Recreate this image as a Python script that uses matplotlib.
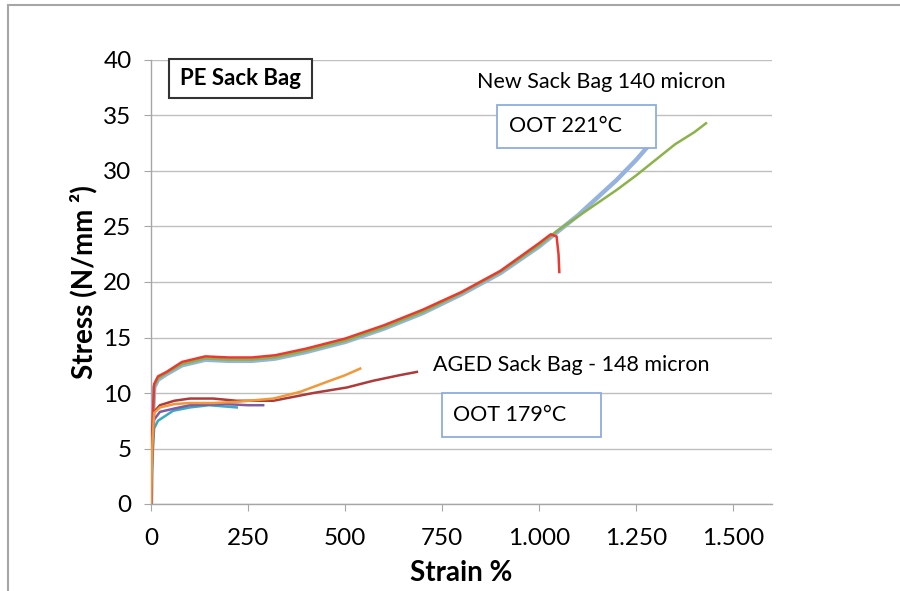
import matplotlib
matplotlib.use("Agg")
import matplotlib.pyplot as plt
from matplotlib.patches import Rectangle

plt.rcParams['font.family'] = ['Lato', 'DejaVu Sans']

# New sack bag 140 micron (OOT 221°C)
new_blue_x = [0, 3, 8, 18, 40, 80, 140, 200, 260, 320, 400, 500, 600, 700, 800, 900, 1000, 1050, 1100, 1150, 1200, 1250, 1280]
new_blue_y = [0, 6, 10.5, 11.2, 11.7, 12.5, 13.0, 12.9, 12.9, 13.1, 13.7, 14.6, 15.8, 17.2, 18.9, 20.8, 23.2, 24.6, 26.0, 27.6, 29.2, 31.0, 32.2]
new_green_x = [0, 3, 8, 18, 40, 80, 140, 200, 260, 320, 400, 500, 600, 700, 800, 900, 1000, 1050, 1100, 1150, 1200, 1250, 1300, 1350, 1400, 1430]
new_green_y = [0, 6.2, 10.6, 11.3, 11.8, 12.6, 13.1, 13.0, 13.0, 13.2, 13.8, 14.7, 15.9, 17.3, 19.0, 20.9, 23.3, 24.7, 25.9, 27.1, 28.3, 29.6, 31.0, 32.4, 33.5, 34.3]
new_red_x = [0, 3, 8, 18, 40, 80, 140, 200, 260, 320, 400, 500, 600, 700, 800, 900, 1000, 1030, 1045, 1050, 1052]
new_red_y = [0, 6.5, 10.8, 11.5, 11.9, 12.8, 13.3, 13.2, 13.2, 13.4, 14.0, 14.9, 16.1, 17.5, 19.1, 21.0, 23.5, 24.3, 24.1, 22.5, 20.9]

# Aged sack bag 148 micron (OOT 179°C)
aged_darkred_x = [0, 3, 8, 23, 60, 100, 160, 221, 315, 418, 505, 572, 640, 685]
aged_darkred_y = [0, 5, 8.3, 8.9, 9.3, 9.5, 9.5, 9.3, 9.3, 10.0, 10.5, 11.1, 11.6, 11.9]
aged_orange_x = [0, 3, 8, 23, 60, 100, 160, 221, 315, 384, 453, 500, 539]
aged_orange_y = [0, 5, 8.2, 8.7, 9.0, 9.1, 9.1, 9.2, 9.5, 10.1, 11.0, 11.6, 12.2]
aged_purple_x = [0, 3, 8, 23, 60, 100, 190, 250, 289]
aged_purple_y = [0, 4.5, 7.6, 8.3, 8.6, 8.9, 9.0, 8.9, 8.9]
aged_teal_x = [0, 3, 8, 18, 57, 100, 150, 221]
aged_teal_y = [0, 4, 6.8, 7.5, 8.4, 8.7, 8.9, 8.7]

x_ticks = [0, 250, 500, 750, 1000, 1250, 1500]
x_tick_labels = ['0', '250', '500', '750', '1.000', '1.250', '1.500']
y_ticks = [0, 5, 10, 15, 20, 25, 30, 35, 40]

fig = plt.figure(figsize=(9, 5.91), dpi=100)
ax = fig.add_axes([151/900, 1-504/591, (772-151)/900, (504-60)/591])

ax.plot(new_blue_x, new_blue_y, color='#95B3DE', lw=3.2, zorder=3)
ax.plot(new_green_x, new_green_y, color='#8AB34A', lw=1.8, zorder=4)
ax.plot(new_red_x, new_red_y, color='#E83A30', lw=1.8, zorder=5)

ax.plot(aged_teal_x, aged_teal_y, color='#3AA9C4', lw=1.8, zorder=3)
ax.plot(aged_purple_x, aged_purple_y, color='#7E5BA6', lw=1.8, zorder=3)
ax.plot(aged_darkred_x, aged_darkred_y, color='#AE3A3A', lw=1.8, zorder=4)
ax.plot(aged_orange_x, aged_orange_y, color='#F0993A', lw=1.8, zorder=5)

ax.set_xlim(0, 1600)
ax.set_ylim(0, 40)
ax.set_xticks(x_ticks)
ax.set_xticklabels(x_tick_labels)
ax.set_yticks(y_ticks)
ax.grid(axis='y', color='#BFBFBF', lw=1)
ax.set_axisbelow(True)
for s in ['top', 'right']:
    ax.spines[s].set_visible(False)
for s in ['left', 'bottom']:
    ax.spines[s].set_color('#A6A6A6')
    ax.spines[s].set_linewidth(1)
ax.tick_params(axis='both', colors='#A6A6A6', labelcolor='black', length=5, labelsize=17.5)
ax.tick_params(axis='x', pad=12)
ax.tick_params(axis='y', pad=9)

ax.set_xlabel('Strain %', fontsize=20, fontweight='bold')
ax.set_ylabel('Stress (N/mm ²)', fontsize=20, fontweight='bold')
ax.xaxis.set_label_coords(0.5, (504-560)/444)
ax.yaxis.set_label_coords((97-151)/621, 0.5)

# PE Sack Bag label box
ax.add_patch(Rectangle((46, 36.6), 369, 3.5, fc='white', ec='#333333', lw=1.5,
                       clip_on=False, zorder=6))
ax.text(230, 38.35, 'PE Sack Bag', fontsize=16, fontweight='bold', ha='center', va='center', zorder=7)

ax.text(1160, 38.0, 'New Sack Bag 140 micron', fontsize=15.5, ha='center', va='center')
ax.add_patch(Rectangle((892, 32.07), 409, 3.88, fc='white', ec='#8FAEDC', lw=1.3, zorder=6))
ax.text(922, 34.05, 'OOT 221°C', fontsize=15.5, ha='left', va='center', zorder=7)

ax.text(1082, 12.5, 'AGED Sack Bag - 148 micron', fontsize=15.5, ha='center', va='center')
ax.add_patch(Rectangle((750, 6.04), 410, 3.96, fc='white', ec='#8FAEDC', lw=1.3, zorder=6))
ax.text(778, 8.0, 'OOT 179°C', fontsize=15.5, ha='left', va='center', zorder=7)

fig.patches.append(Rectangle((8/900, -0.05), 1.2, 1-5/591+0.05, transform=fig.transFigure,
                             fill=False, ec='#A6A6A6', lw=1.5))

fig.savefig('out.png', dpi=100)
